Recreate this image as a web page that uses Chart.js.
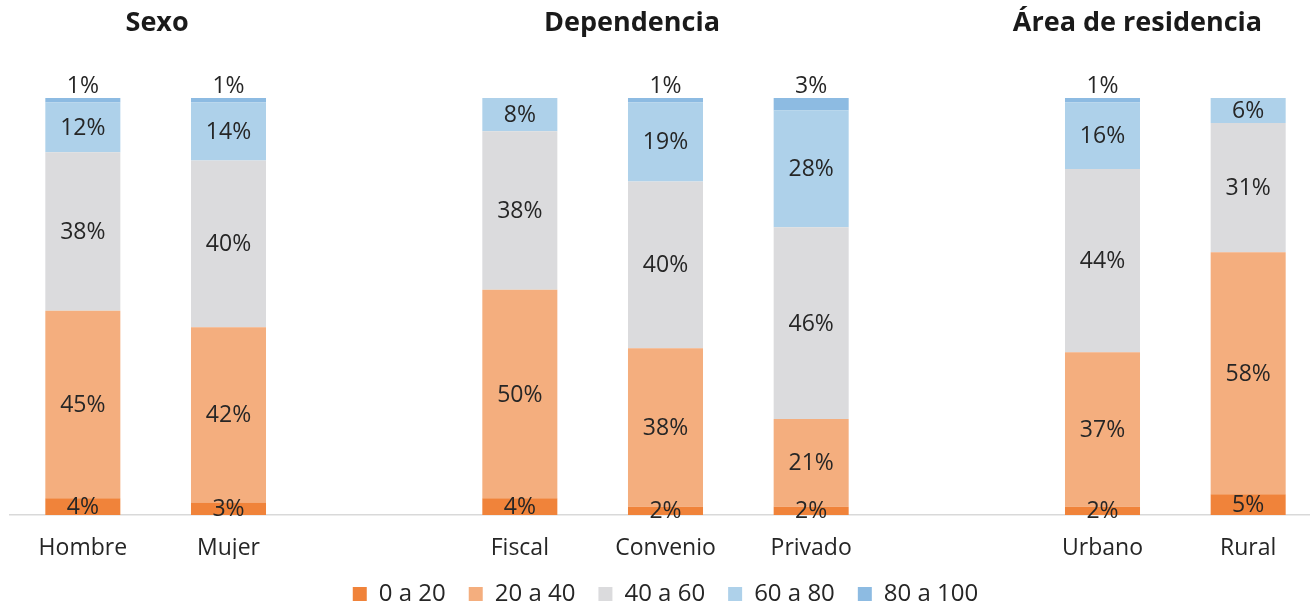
<!DOCTYPE html>
<html>
<head>
<meta charset="utf-8">
<script src="https://cdn.jsdelivr.net/npm/chart.js@4/dist/chart.umd.min.js"></script>
<style>
  html, body { margin: 0; padding: 0; background: #ffffff; overflow: hidden; }
  #wrap { position: relative; width: 1321px; height: 604px; }
</style>
</head>
<body>
<div id="wrap"><canvas id="c"></canvas></div>
<script>
// Categories (blank slots separate the groups)
const categories = ['Hombre', 'Mujer', '', 'Fiscal', 'Convenio', 'Privado', '', 'Urbano', 'Rural'];
const seriesNames = ['0 a 20', '20 a 40', '40 a 60', '60 a 80', '80 a 100'];
const s0_20   = [4, 3, null, 4, 2, 2, null, 2, 5];
const s20_40  = [45, 42, null, 50, 38, 21, null, 37, 58];
const s40_60  = [38, 40, null, 38, 40, 46, null, 44, 31];
const s60_80  = [12, 14, null, 8, 19, 28, null, 16, 6];
const s80_100 = [1, 1, null, 0, 1, 3, null, 1, 0];
// Group titles and the (fractional) category position where each is centred
const groupTitles = ['Sexo', 'Dependencia', 'Área de residencia'];
const groupTitlePos = [0.51, 3.77, 7.24];

const colors = ['#F0833A', '#F4AE7E', '#DBDBDD', '#AED1EA', '#8DBBE2'];
const seriesData = [s0_20, s20_40, s40_60, s60_80, s80_100];

const FONT = "'Open Sans', 'DejaVu Sans', sans-serif";

const legendFitPlugin = {
  id: 'legendFit',
  beforeInit(chart) {
    const lg = chart.legend;
    if (!lg) return;
    const orig = lg.fit;
    lg.fit = function () {
      orig.call(this);
      this.height = 45;
    };
  }
};

const labelPlugin = {
  id: 'segLabels',
  afterDatasetsDraw(chart) {
    const ctx = chart.ctx;
    ctx.save();
    ctx.font = '23px ' + FONT;
    ctx.fillStyle = '#262626';
    ctx.textAlign = 'center';
    ctx.textBaseline = 'middle';
    const last = chart.data.datasets.length - 1;
    chart.data.datasets.forEach((ds, di) => {
      const meta = chart.getDatasetMeta(di);
      meta.data.forEach((el, i) => {
        const v = ds.data[i];
        if (v === null || v === undefined || v <= 0) return;
        let y;
        if (di === last) {
          y = el.y - 12;
        } else {
          y = (el.y + el.base) / 2 + 1;
        }
        ctx.fillText(v + '%', el.x, y);
      });
    });
    // group titles
    ctx.font = 'bold 27px ' + FONT;
    ctx.fillStyle = '#1a1a1a';
    const xs = chart.scales.x;
    groupTitles.forEach((t, k) => {
      const f = Math.floor(groupTitlePos[k]);
      const p0 = xs.getPixelForValue(f);
      const p1 = xs.getPixelForValue(f + 1);
      const x = p0 + (p1 - p0) * (groupTitlePos[k] - f);
      ctx.fillText(t, x, 23);
    });
    ctx.restore();
  }
};

new Chart(document.getElementById('c'), {
  type: 'bar',
  data: {
    labels: categories,
    datasets: seriesNames.map((n, k) => ({
      label: n,
      data: seriesData[k],
      backgroundColor: colors[k],
      borderWidth: 0,
      categoryPercentage: 1,
      barPercentage: 0.515
    }))
  },
  options: {
    responsive: true,
    maintainAspectRatio: false,
    animation: false,
    layout: { padding: { top: 98, left: 10, right: 0, bottom: 0 } },
    plugins: {
      legend: {
        position: 'bottom',
        labels: {
          boxWidth: 14, boxHeight: 14,
          padding: 23,
          color: '#262626',
          font: { family: FONT, size: 24 }
        }
      },
      tooltip: { enabled: false }
    },
    scales: {
      x: {
        stacked: true,
        grid: { display: false, drawTicks: false, tickLength: 0 },
        border: { display: true, color: '#d9d9d9', width: 1.5 },
        ticks: { color: '#262626', padding: 22, font: { family: FONT, size: 23, lineHeight: 0.96 } },
        afterFit(scale) { scale.height = 44; }
      },
      y: {
        stacked: true,
        display: false,
        min: 0, max: 100
      }
    }
  },
  plugins: [legendFitPlugin, labelPlugin]
});
</script>
</body>
</html>
